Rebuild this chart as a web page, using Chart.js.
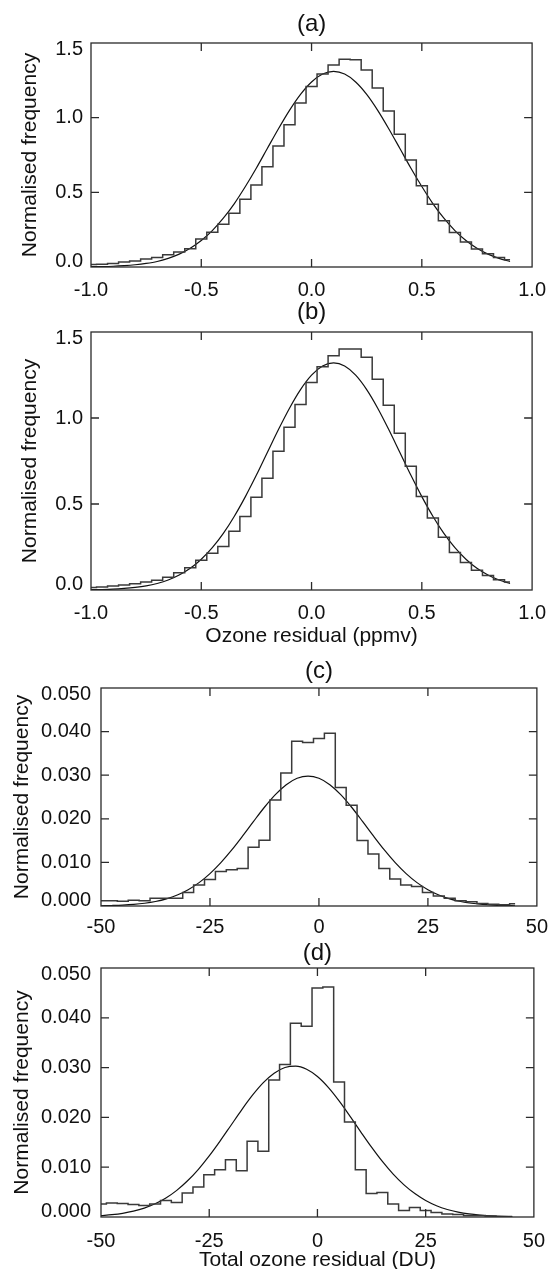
<!DOCTYPE html>
<html>
<head>
<meta charset="utf-8">
<title>Ozone residual histograms</title>
<script src="https://cdn.jsdelivr.net/npm/chart.js@4.4.1/dist/chart.umd.min.js"></script>
<style>
  html, body { margin: 0; padding: 0; background: #fff; }
  canvas { position: absolute; left: 0; }
</style>
</head>
<body>
<canvas id="panelA" width="559" height="297" style="top:0px"></canvas>
<canvas id="panelB" width="559" height="358" style="top:297px"></canvas>
<canvas id="panelC" width="559" height="280" style="top:655px"></canvas>
<canvas id="panelD" width="559" height="334" style="top:935px"></canvas>
<script>
// bin centres
const ozoneX = [-1.0, -0.95, -0.9, -0.85, -0.8, -0.75, -0.7, -0.65, -0.6, -0.55, -0.5, -0.45, -0.4,
  -0.35, -0.3, -0.25, -0.2, -0.15, -0.1, -0.05, 0.0, 0.05, 0.1, 0.15, 0.2, 0.25, 0.3, 0.35, 0.4,
  0.45, 0.5, 0.55, 0.6, 0.65, 0.7, 0.75, 0.8, 0.85, 0.9];
const totalX = [-50, -47.5, -45, -42.5, -40, -37.5, -35, -32.5, -30, -27.5, -25, -22.5, -20, -17.5,
  -15, -12.5, -10, -7.5, -5, -2.5, 0, 2.5, 5, 7.5, 10, 12.5, 15, 17.5, 20, 22.5, 25, 27.5, 30,
  32.5, 35, 37.5, 40, 42.5, 45];

// (a)
const histA = [0.016, 0.018, 0.024, 0.033, 0.040, 0.053, 0.064, 0.082, 0.100, 0.122, 0.187, 0.233,
  0.287, 0.360, 0.453, 0.549, 0.671, 0.811, 0.953, 1.098, 1.209, 1.293, 1.353, 1.391, 1.387, 1.320,
  1.198, 1.044, 0.889, 0.716, 0.544, 0.420, 0.309, 0.231, 0.167, 0.120, 0.089, 0.064, 0.049];
const fitA = [0.002, 0.003, 0.005, 0.009, 0.015, 0.024, 0.037, 0.058, 0.086, 0.125, 0.177, 0.244,
  0.327, 0.425, 0.539, 0.663, 0.795, 0.926, 1.049, 1.156, 1.239, 1.292, 1.310, 1.292, 1.239, 1.156,
  1.049, 0.926, 0.795, 0.663, 0.539, 0.425, 0.327, 0.244, 0.177, 0.125, 0.086, 0.058, 0.037];

// (b)
const histB = [0.014, 0.018, 0.023, 0.029, 0.037, 0.047, 0.056, 0.074, 0.101, 0.130, 0.173, 0.214,
  0.253, 0.342, 0.428, 0.539, 0.650, 0.806, 0.946, 1.078, 1.207, 1.298, 1.362, 1.401, 1.401, 1.353,
  1.226, 1.074, 0.912, 0.720, 0.544, 0.418, 0.307, 0.218, 0.160, 0.115, 0.084, 0.060, 0.047];
const fitB = [0.002, 0.003, 0.005, 0.009, 0.015, 0.024, 0.038, 0.058, 0.087, 0.126, 0.179, 0.246,
  0.329, 0.429, 0.543, 0.668, 0.801, 0.933, 1.057, 1.165, 1.249, 1.302, 1.320, 1.302, 1.249, 1.165,
  1.057, 0.933, 0.801, 0.668, 0.543, 0.429, 0.329, 0.246, 0.179, 0.126, 0.087, 0.058, 0.038];

// (c)
const histC = [0.0012, 0.0012, 0.0011, 0.0013, 0.0012, 0.0018, 0.0018, 0.0018, 0.0031, 0.0048,
  0.0061, 0.0079, 0.0083, 0.0086, 0.0135, 0.0151, 0.0243, 0.0305, 0.0378, 0.0375, 0.0384, 0.0396,
  0.0272, 0.0231, 0.0150, 0.0119, 0.0086, 0.0062, 0.0048, 0.0045, 0.0031, 0.0023, 0.0018, 0.0012,
  0.0010, 0.0006, 0.0004, 0.0003, 0.0005];
const fitC = [0.00006, 0.00012, 0.00021, 0.00037, 0.00063, 0.00103, 0.00164, 0.00252, 0.00374,
  0.00536, 0.00743, 0.00995, 0.01286, 0.01607, 0.01941, 0.02265, 0.02554, 0.02782, 0.02929, 0.02980,
  0.02929, 0.02782, 0.02554, 0.02265, 0.01941, 0.01607, 0.01286, 0.00995, 0.00743, 0.00536, 0.00374,
  0.00252, 0.00164, 0.00103, 0.00063, 0.00037, 0.00021, 0.00012, 0.00006];

// (d)
const histD = [0.0026, 0.0028, 0.0027, 0.0025, 0.0023, 0.0026, 0.0033, 0.0029, 0.0048, 0.0060,
  0.0085, 0.0095, 0.0115, 0.0093, 0.0152, 0.0132, 0.0275, 0.0306, 0.0389, 0.0383, 0.0460, 0.0462,
  0.0271, 0.0191, 0.0095, 0.0047, 0.0049, 0.0026, 0.0013, 0.0019, 0.0013, 0.0009, 0.0006, 0.0005,
  0.0003, 0.0003, 0.0002, 0.0001, 0.0001];
const fitD = [0.00027, 0.00046, 0.00074, 0.00117, 0.00179, 0.00265, 0.00382, 0.00535, 0.00727,
  0.00958, 0.01227, 0.01524, 0.01838, 0.02152, 0.02445, 0.02697, 0.02887, 0.03001, 0.03028, 0.02966,
  0.02820, 0.02602, 0.02331, 0.02027, 0.01711, 0.01402, 0.01115, 0.00861, 0.00645, 0.00470, 0.00332,
  0.00227, 0.00151, 0.00098, 0.00061, 0.00037, 0.00022, 0.00013, 0.00007];

// tick values
const ozoneXTicks = [-1.0, -0.5, 0.0, 0.5, 1.0];
const ozoneYTicks = [0.0, 0.5, 1.0, 1.5];
const totalXTicks = [-50, -25, 0, 25, 50];
const totalYTicks = [0.0, 0.01, 0.02, 0.03, 0.04, 0.05];

const FONT = '"Liberation Sans", Arial, Helvetica, sans-serif';
const INK = '#111';

const pairs = (xs, ys) => xs.map((x, i) => ({ x: x, y: ys[i] }));

// IDL style frame with inward ticks on all four sides
const frameTicks = {
  id: 'frameTicks',
  afterDatasetsDraw(chart) {
    const { ctx, chartArea: a, scales } = chart;
    const x = scales.x, y = scales.y;
    const len = 8;
    ctx.save();
    ctx.strokeStyle = '#2a2a2a';
    ctx.lineWidth = 1.3;
    ctx.strokeRect(a.left, a.top, a.right - a.left, a.bottom - a.top);
    ctx.beginPath();
    x.ticks.forEach(t => {
      const px = x.getPixelForValue(t.value);
      if (px <= a.left + 1 || px >= a.right - 1) return;
      ctx.moveTo(px, a.bottom); ctx.lineTo(px, a.bottom - len);
      ctx.moveTo(px, a.top); ctx.lineTo(px, a.top + len);
    });
    y.ticks.forEach(t => {
      const py = y.getPixelForValue(t.value);
      if (py <= a.top + 1 || py >= a.bottom - 1) return;
      ctx.moveTo(a.left, py); ctx.lineTo(a.left + len, py);
      ctx.moveTo(a.right, py); ctx.lineTo(a.right - len, py);
    });
    ctx.stroke();
    ctx.restore();
  }
};

// end labels sit inside the frame, as in the original: pad them with an empty line
const endShift = fmt => (v, i, ticks) => {
  const s = fmt(v);
  if (i === 0) return [s, ''];
  if (i === ticks.length - 1) return ['', s];
  return s;
};

function makePanel(id, o) {
  return new Chart(document.getElementById(id), {
    type: 'line',
    data: {
      datasets: [
        { data: pairs(o.xs, o.hist), stepped: 'middle', borderColor: '#3a3a3a', borderWidth: 1.5,
          pointRadius: 0, fill: false },
        { data: pairs(o.xs, o.fit), borderColor: '#111', borderWidth: 1.2, pointRadius: 0,
          cubicInterpolationMode: 'monotone', fill: false }
      ]
    },
    options: {
      responsive: false,
      animation: false,
      events: [],
      layout: { padding: { left: 0, right: o.padRight, top: 0, bottom: 0 } },
      plugins: { legend: { display: false }, tooltip: { enabled: false } },
      scales: {
        x: {
          type: 'linear', position: 'bottom', min: o.xMin, max: o.xMax,
          afterBuildTicks: s => { s.ticks = o.xTicks.map(v => ({ value: v })); },
          afterFit: s => { s.height = o.xHeight; },
          grid: { display: false, drawTicks: false },
          border: { display: false },
          ticks: { padding: o.xPad, color: INK, maxRotation: 0, autoSkip: false,
            font: { family: FONT, size: 20, lineHeight: 1 }, callback: o.xFmt },
          title: { display: !!o.xTitle, text: o.xTitle || '', color: INK,
            font: { family: FONT, size: 21, lineHeight: 1 }, padding: { top: 0, bottom: o.xTitlePad } }
        },
        x2: {
          type: 'linear', position: 'top', min: o.xMin, max: o.xMax,
          afterFit: s => { s.height = o.topHeight; },
          grid: { display: false, drawTicks: false },
          border: { display: false },
          ticks: { display: false },
          title: { display: true, text: o.label, color: INK,
            font: { family: FONT, size: 24, lineHeight: 1 }, padding: { top: o.labelPad, bottom: 0 } }
        },
        y: {
          type: 'linear', position: 'left', min: o.yMin, max: o.yMax,
          afterBuildTicks: s => { s.ticks = o.yTicks.map(v => ({ value: v })); },
          afterFit: s => { s.width = o.yWidth; },
          grid: { display: false, drawTicks: false },
          border: { display: false },
          ticks: { padding: o.yPad, color: INK, autoSkip: false,
            font: { family: FONT, size: 20, lineHeight: 0.6 }, callback: endShift(o.yFmt) },
          title: { display: true, text: 'Normalised frequency', color: INK,
            font: { family: FONT, size: 21, lineHeight: 1 }, padding: { top: o.yTitlePad, bottom: 0 } }
        }
      }
    },
    plugins: [frameTicks]
  });
}

const fmt1 = v => v.toFixed(1);
const fmt3 = v => v.toFixed(3);
const fmtInt = v => String(v);

makePanel('panelA', {
  xs: ozoneX, hist: histA, fit: fitA, label: '(a)',
  xMin: -1, xMax: 1, yMin: 0, yMax: 1.5, xTicks: ozoneXTicks, yTicks: ozoneYTicks,
  xFmt: fmt1, yFmt: fmt1, padRight: 18, yWidth: 91, yPad: 8, yTitlePad: 19.5,
  topHeight: 43, labelPad: 12, xHeight: 30, xPad: 13
});
makePanel('panelB', {
  xs: ozoneX, hist: histB, fit: fitB, label: '(b)', xTitle: 'Ozone residual (ppmv)',
  xMin: -1, xMax: 1, yMin: 0, yMax: 1.5, xTicks: ozoneXTicks, yTicks: ozoneYTicks,
  xFmt: fmt1, yFmt: fmt1, padRight: 18, yWidth: 91, yPad: 8, yTitlePad: 19.5,
  topHeight: 35, labelPad: 3.5, xHeight: 65, xPad: 13, xTitlePad: 8.5
});
makePanel('panelC', {
  xs: totalX, hist: histC, fit: fitC, label: '(c)',
  xMin: -50, xMax: 50, yMin: 0, yMax: 0.05, xTicks: totalXTicks, yTicks: totalYTicks,
  xFmt: fmtInt, yFmt: fmt3, padRight: 22, yWidth: 101, yPad: 10, yTitlePad: 11.5,
  topHeight: 33, labelPad: 4, xHeight: 29, xPad: 11
});
makePanel('panelD', {
  xs: totalX, hist: histD, fit: fitD, label: '(d)', xTitle: 'Total ozone residual (DU)',
  xMin: -50, xMax: 50, yMin: 0, yMax: 0.05, xTicks: totalXTicks, yTicks: totalYTicks,
  xFmt: fmtInt, yFmt: fmt3, padRight: 22, yWidth: 101, yPad: 10, yTitlePad: 11.5,
  topHeight: 33, labelPad: 6, xHeight: 52, xPad: 14, xTitlePad: -2
});
</script>
</body>
</html>
